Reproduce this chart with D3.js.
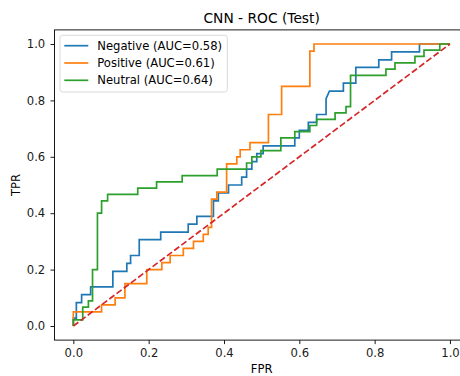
<!DOCTYPE html>
<html>
<head>
<meta charset="utf-8">
<script src="https://cdn.jsdelivr.net/npm/d3@7"></script>
<style>
  html, body { margin: 0; padding: 0; background: #fff; }
  svg { display: block; font-family: "DejaVu Sans", sans-serif; }
</style>
</head>
<body>
<svg id="chart" width="460" height="376"></svg>
<script>
// ROC curve vertices [FPR, TPR] for each class (one-vs-rest, test split)
const negativeRoc = [
  [0,0],[0,0.028],[0.008,0.028],[0.008,0.083],[0.022,0.083],[0.022,0.111],
  [0.046,0.111],[0.046,0.139],[0.105,0.139],[0.105,0.194],[0.142,0.194],[0.142,0.222],
  [0.152,0.222],[0.152,0.25],[0.175,0.25],[0.175,0.306],[0.232,0.306],[0.232,0.333],
  [0.305,0.333],[0.305,0.361],[0.328,0.361],[0.328,0.389],[0.372,0.389],[0.372,0.444],
  [0.385,0.444],[0.385,0.472],[0.412,0.472],[0.412,0.5],[0.447,0.5],[0.447,0.528],
  [0.46,0.528],[0.46,0.556],[0.474,0.556],[0.474,0.583],[0.487,0.583],[0.487,0.611],
  [0.504,0.611],[0.504,0.639],[0.588,0.639],[0.588,0.667],[0.6,0.667],[0.6,0.694],
  [0.624,0.694],[0.624,0.722],[0.646,0.722],[0.646,0.75],[0.671,0.75],[0.671,0.806],
  [0.68,0.833],[0.717,0.833],[0.717,0.861],[0.75,0.861],[0.75,0.917],[0.811,0.917],
  [0.811,0.944],[0.845,0.944],[0.845,0.972],[0.919,0.972],[0.919,1],[1,1]
];
const positiveRoc = [
  [0,0],[0,0.05],[0.075,0.05],[0.075,0.075],[0.111,0.075],[0.111,0.1],
  [0.137,0.1],[0.137,0.15],[0.195,0.15],[0.195,0.2],[0.235,0.2],[0.235,0.225],
  [0.257,0.225],[0.257,0.25],[0.292,0.25],[0.292,0.275],[0.319,0.275],[0.319,0.3],
  [0.345,0.3],[0.345,0.325],[0.358,0.325],[0.358,0.35],[0.367,0.35],[0.367,0.45],
  [0.381,0.45],[0.381,0.475],[0.407,0.475],[0.407,0.575],[0.434,0.575],[0.434,0.6],
  [0.443,0.6],[0.443,0.625],[0.469,0.625],[0.469,0.65],[0.518,0.65],[0.518,0.75],
  [0.553,0.75],[0.553,0.85],[0.628,0.85],[0.628,0.975],[0.639,0.975],[0.639,1],[1,1]
];
const neutralRoc = [
  [0,0],[0,0.022],[0.025,0.022],[0.025,0.067],[0.04,0.067],[0.04,0.089],
  [0.051,0.089],[0.051,0.2],[0.064,0.2],[0.064,0.4],[0.075,0.4],[0.075,0.444],
  [0.091,0.444],[0.091,0.467],[0.171,0.467],[0.171,0.489],[0.221,0.489],[0.221,0.511],
  [0.289,0.511],[0.289,0.533],[0.382,0.533],[0.382,0.556],[0.46,0.556],[0.46,0.578],
  [0.474,0.578],[0.474,0.6],[0.498,0.6],[0.498,0.622],[0.551,0.622],[0.551,0.667],
  [0.588,0.667],[0.588,0.689],[0.628,0.689],[0.628,0.711],[0.646,0.711],[0.646,0.733],
  [0.695,0.733],[0.695,0.756],[0.724,0.756],[0.724,0.778],[0.736,0.778],[0.736,0.889],
  [0.83,0.889],[0.83,0.911],[0.854,0.911],[0.854,0.933],[0.907,0.933],[0.907,0.956],
  [0.931,0.956],[0.931,0.978],[0.973,0.978],[0.973,1],[1,1]
];
const chanceLine = [[0,0],[1,1]];

const classNames = ["Negative", "Positive", "Neutral"];
const aucValues = [0.58, 0.61, 0.64];
const classColors = ["#1f77b4", "#ff7f0e", "#2ca02c"];
const tickValues = [0, 0.2, 0.4, 0.6, 0.8, 1.0];
const titleText = "CNN - ROC (Test)";
const xLabel = "FPR";
const yLabel = "TPR";

const baseFont = "11.6px";
const titleFont = "13.8px";

const svg = d3.select("#chart");
const plotLeft = 54.5, plotRight = 468.8, plotTop = 29.9, plotBottom = 340.1;

const x = d3.scaleLinear().domain([-0.05, 1.05]).range([plotLeft, plotRight]);
const y = d3.scaleLinear().domain([-0.05, 1.05]).range([plotBottom, plotTop]);

svg.append("defs").append("clipPath").attr("id", "plot-clip")
  .append("rect").attr("x", plotLeft).attr("y", plotTop)
  .attr("width", plotRight - plotLeft).attr("height", plotBottom - plotTop);

const plot = svg.append("g").attr("clip-path", "url(#plot-clip)");
const line = d3.line().x(d => x(d[0])).y(d => y(d[1]));

[negativeRoc, positiveRoc, neutralRoc].forEach((pts, i) => {
  plot.append("path").datum(pts)
    .attr("d", line)
    .attr("fill", "none")
    .attr("stroke", classColors[i])
    .attr("stroke-width", 1.7)
    .attr("stroke-linejoin", "miter");
});

plot.append("path").datum(chanceLine)
  .attr("d", line)
  .attr("fill", "none")
  .attr("stroke", "#d62728")
  .attr("stroke-width", 1.7)
  .attr("stroke-dasharray", "6.3,2.7");

// Axes
const fmt = d3.format(".1f");
const fmt2 = d3.format(".2f");
const xAxis = svg.append("g")
  .attr("transform", `translate(0,${plotBottom})`)
  .call(d3.axisBottom(x).tickValues(tickValues).tickFormat(fmt)
    .tickSize(4).tickSizeOuter(0).tickPadding(5.1));
const yAxis = svg.append("g")
  .attr("transform", `translate(${plotLeft},0)`)
  .call(d3.axisLeft(y).tickValues(tickValues).tickFormat(fmt)
    .tickSize(4).tickSizeOuter(0).tickPadding(5.3));

[xAxis, yAxis].forEach(g => {
  g.select(".domain").remove();
  g.selectAll(".tick line").attr("stroke", "#000").attr("stroke-width", 0.9);
  g.selectAll(".tick text")
    .attr("fill", "#1a1a1a")
    .style("font-family", "DejaVu Sans")
    .style("font-size", baseFont);
});

// Frame
svg.append("rect")
  .attr("x", plotLeft).attr("y", plotTop)
  .attr("width", plotRight - plotLeft).attr("height", plotBottom - plotTop)
  .attr("fill", "none").attr("stroke", "#000").attr("stroke-width", 0.9);

// Title and axis labels
svg.append("text")
  .attr("x", (plotLeft + plotRight) / 2).attr("y", 22.6)
  .attr("text-anchor", "middle")
  .style("font-size", titleFont).attr("fill", "#000")
  .text(titleText);

svg.append("text")
  .attr("x", (plotLeft + plotRight) / 2).attr("y", 372.8)
  .attr("text-anchor", "middle")
  .style("font-size", baseFont).attr("fill", "#000")
  .text(xLabel);

svg.append("text")
  .attr("transform", `translate(19.5,${(plotTop + plotBottom) / 2}) rotate(-90)`)
  .attr("text-anchor", "middle")
  .style("font-size", baseFont).attr("fill", "#000")
  .text(yLabel);

// Legend
const legend = svg.append("g");
legend.append("rect")
  .attr("x", 60).attr("y", 35.3)
  .attr("width", 167.3).attr("height", 56.7)
  .attr("rx", 2.5)
  .attr("fill", "#fff").attr("fill-opacity", 0.8)
  .attr("stroke", "#d6d6d6").attr("stroke-width", 0.9);

classNames.forEach((name, i) => {
  const cy = 45.7 + i * 17.3;
  legend.append("line")
    .attr("x1", 64.3).attr("x2", 88.3)
    .attr("y1", cy).attr("y2", cy)
    .attr("stroke", classColors[i]).attr("stroke-width", 1.7);
  legend.append("text")
    .attr("x", 97.3).attr("y", cy).attr("dy", "0.36em")
    .style("font-size", baseFont).attr("fill", "#000")
    .text(`${name} (AUC=${fmt2(aucValues[i])})`);
});
</script>
</body>
</html>
